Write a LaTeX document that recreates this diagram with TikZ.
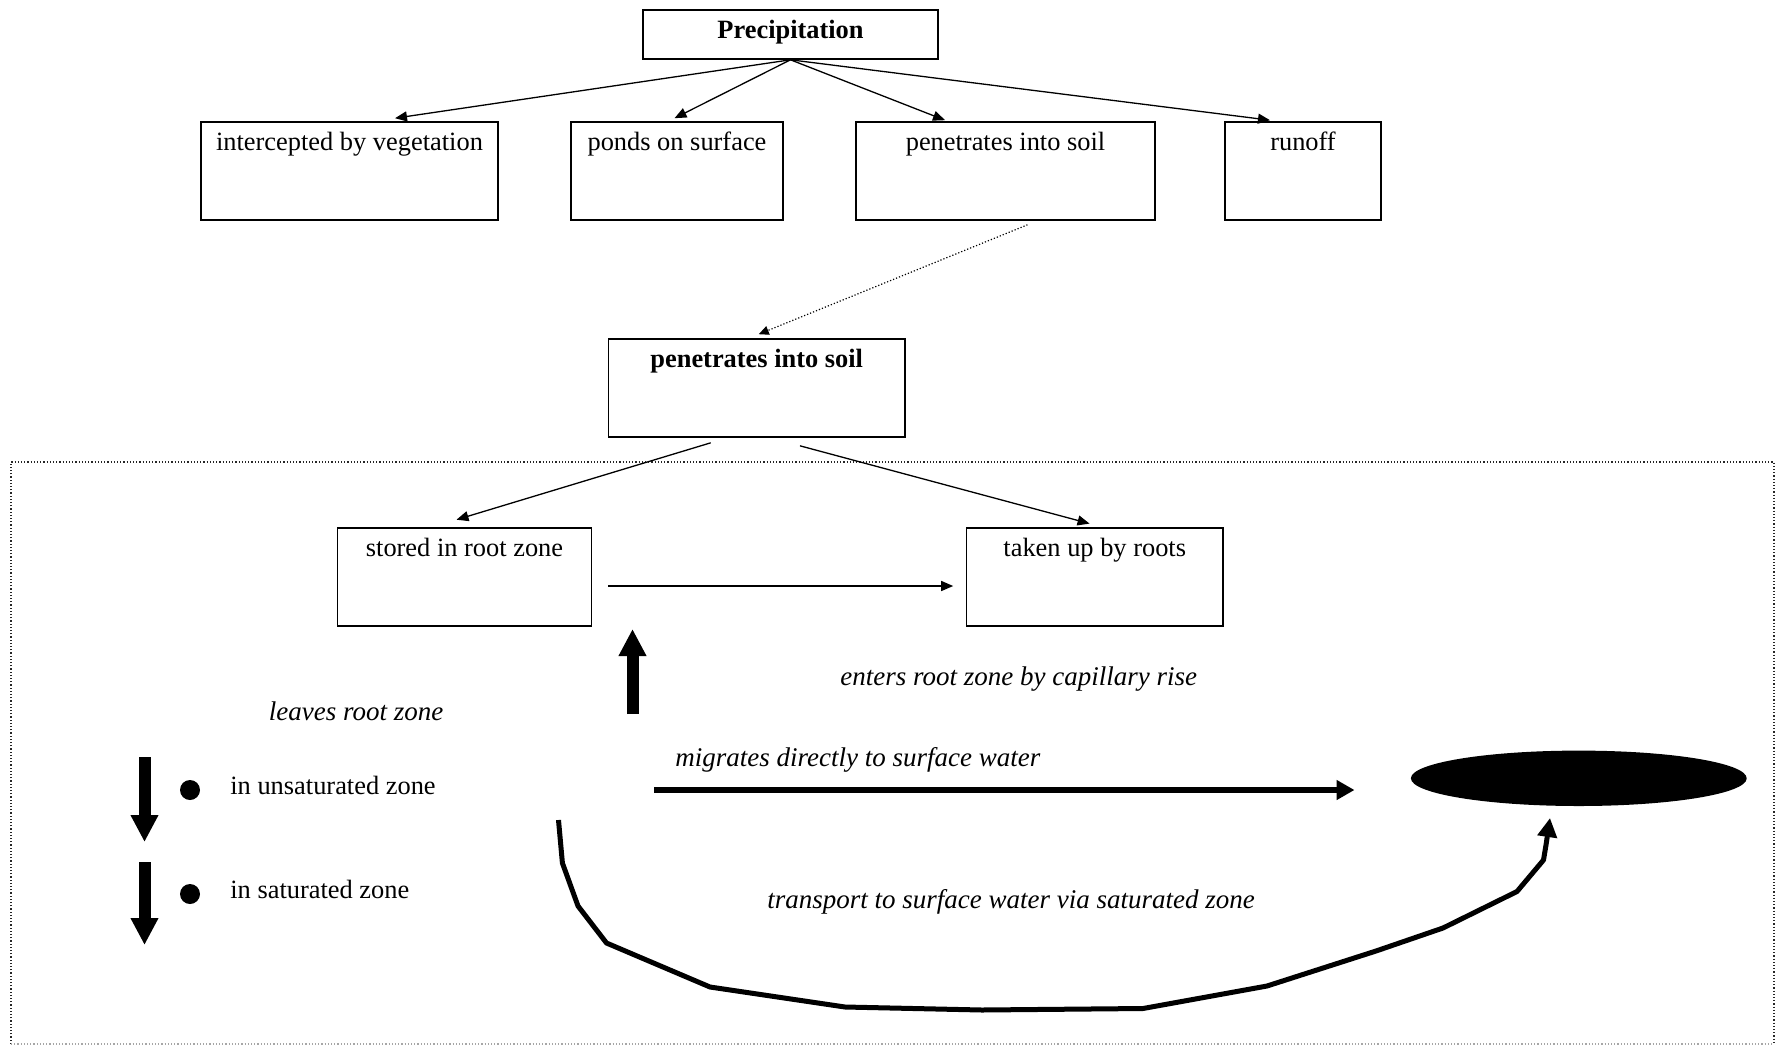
\documentclass[tikz,border=0pt]{standalone}
\usepackage{fontspec}
\setmainfont{Liberation Serif}
\usetikzlibrary{arrows.meta,shapes.geometric}
\begin{document}
\begin{tikzpicture}[x=0.5pt,y=-0.5pt,
  txt/.style={font=\fontsize{13.2}{16}\selectfont},
  box/.style={txt,draw,line width=0.8pt,inner sep=0pt,text height=14pt,text depth=35pt},
  lbl/.style={inner sep=0pt,anchor=base west,font=\fontsize{13.2}{16}\selectfont},
  ilbl/.style={inner sep=0pt,anchor=base west,font=\fontsize{13.5}{16}\selectfont\itshape},
  thinarrow/.style={-{Triangle[length=6pt,width=5pt]},line width=0.65pt},
  dotarrow/.style={-{Triangle[length=5pt,width=4.5pt]},line width=0.6pt,densely dotted},
  blockarrow/.style={-{Triangle[length=13.5pt,width=13pt]},line width=6pt},
  fatarrow/.style={-{Triangle[length=9pt,width=9.5pt]},line width=2.7pt},
  curvearrow/.style={-{Triangle[length=9.5pt,width=9.5pt]},line width=2.5pt,line join=round},
  dotbullet/.style={circle,fill=black,inner sep=0pt,minimum size=10pt},
  frame/.style={densely dotted,line width=0.6pt,black!85}
]
\useasboundingbox (0,0) rectangle (1777,1045);

% outer dotted frame
\coordinate (fTL) at (11,462);
\coordinate (fTR) at (1774,462);
\coordinate (fBR) at (1774,1044);
\coordinate (fBL) at (11,1044);
\draw[frame] (fBL) -- (fTL) -- (fTR) -- (fBR);
\draw[frame,black!35] (fBL) -- (fBR);

% top level
\node[txt,draw,line width=0.8pt,inner sep=0pt,text height=14pt,text depth=10.5pt,
      minimum width=147.5pt,font=\fontsize{13.2}{16}\selectfont\bfseries] (prec) at (790.5,34.5) {Precipitation};

\node[box,minimum width=148.5pt] (icpt) at (349.5,171) {intercepted by vegetation};
\node[box,minimum width=106pt]   (pond) at (677,171)   {ponds on surface};
\node[box,minimum width=149.5pt] (pen1) at (1005.5,171) {penetrates into soil};
\node[box,minimum width=78pt]    (run)  at (1303,171)  {runoff};

\draw[thinarrow] (prec.south) -- ([xshift=22.75pt,yshift=1.5pt]icpt.north);
\draw[thinarrow] (prec.south) -- ([xshift=-1.25pt,yshift=1.5pt]pond.north);
\draw[thinarrow] (prec.south) -- ([xshift=-30.25pt,yshift=0.5pt]pen1.north);
\draw[thinarrow] (prec.south) -- ([xshift=-16.5pt,yshift=0.5pt]run.north);

% second level
\node[box,minimum width=148.25pt,font=\fontsize{13.2}{16}\selectfont\bfseries] (pen2) at (756.75,388) {penetrates into soil};
\draw[dotarrow] ([xshift=11pt,yshift=-2pt]pen1.south) -- ([xshift=1pt,yshift=2pt]pen2.north);

% root zone
\node[box,minimum width=127pt]    (store) at (464.5,577)   {stored in root zone};
\node[box,minimum width=128.25pt] (roots) at (1094.75,577) {taken up by roots};

\draw[thinarrow] ([xshift=-23pt,yshift=-2.5pt]pen2.south) -- ([xshift=-4pt,yshift=3.75pt]store.north);
\draw[thinarrow] ([xshift=21.6pt,yshift=-4pt]pen2.south) -- ([xshift=-2.6pt,yshift=1.8pt]roots.north);
\draw[thinarrow] ([xshift=8pt,yshift=-4.5pt]store.east) -- ([xshift=-6.25pt,yshift=-4.5pt]roots.west);

% capillary rise arrow
\coordinate (capA) at (632.5,714);
\coordinate (capB) at (632.5,629);
\draw[blockarrow] (capA) -- (capB);

% labels
\node[ilbl] (leaves) at (268.5,720) {leaves root zone};
\node[ilbl] (enters) at (840,685) {enters root zone by capillary rise};
\node[ilbl] (migr)   at (675,766) {migrates directly to surface water};
\node[ilbl] (transp) at (767,908) {transport to surface water via saturated zone};

% leaving root zone list
\coordinate (d1a) at (144.5,757);
\coordinate (d1b) at (144.5,842);
\coordinate (d2a) at (144.5,862);
\coordinate (d2b) at (144.5,945);
\draw[blockarrow] (d1a) -- (d1b);
\draw[blockarrow] (d2a) -- (d2b);
\node[dotbullet] (b1) at (190,790) {};
\node[dotbullet] (b2) at (190,894) {};
\node[lbl] (unsat) at (230,794) {in unsaturated zone};
\node[lbl] (sat)   at (230,898) {in saturated zone};

% surface water
\node[ellipse,fill=black,inner sep=0pt,minimum width=167.9pt,minimum height=27.7pt] (water) at (1578.8,778.3) {};

\coordinate (mA) at (654,790);
\coordinate (mB) at (1354.5,790);
\draw[fatarrow] (mA) -- (mB);

\coordinate (cA) at (558.5,820);
\coordinate (cB) at (1550,818);
\draw[curvearrow] (cA) -- (562.4,863) -- (578,906) -- (606.5,943) -- (710,987)
  -- (845,1007) -- (982,1010) -- (1143,1008.5) -- (1267,986) -- (1376,951)
  -- (1443,928) -- (1517,891.5) -- (1543.5,860) -- (1546,845) -- (cB);
\end{tikzpicture}
\end{document}
